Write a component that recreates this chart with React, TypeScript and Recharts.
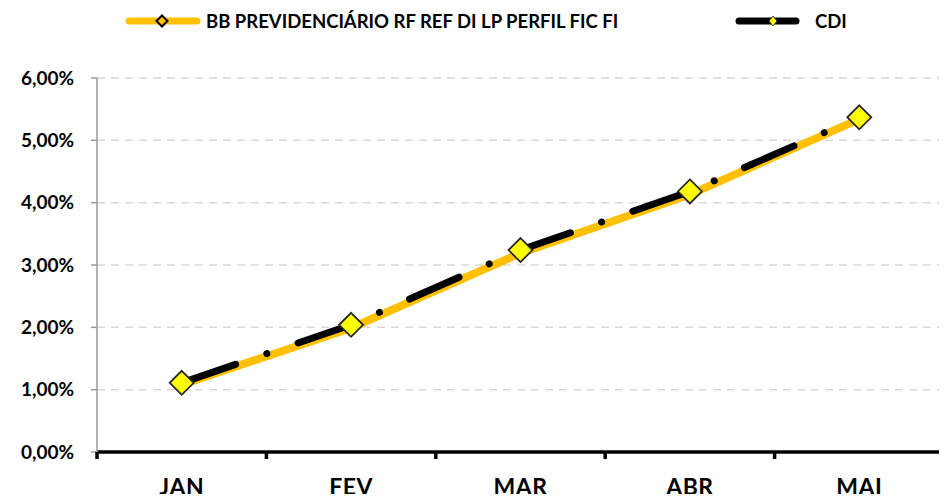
import React from "react";
import { LineChart, Line, XAxis, YAxis, CartesianGrid } from "recharts";

const MONTHS = ["JAN", "FEV", "MAR", "ABR", "MAI"];
const FUND = [1.08, 1.99, 3.19, 4.13, 5.34];
const CDI = [1.11, 2.04, 3.24, 4.18, 5.37];
const Y_TICKS = [0, 1, 2, 3, 4, 5, 6];

const FUND_NAME = "BB PREVIDENCIÁRIO RF REF DI LP PERFIL FIC FI";
const CDI_NAME = "CDI";

const FONT = "Lato, 'Open Sans', sans-serif";
const PLOT_LEFT = 97;
const PLOT_RIGHT = 944;
const BAND = (PLOT_RIGHT - PLOT_LEFT) / MONTHS.length;

const data = MONTHS.map((m, i) => ({ month: m, fund: FUND[i], cdi: CDI[i] }));

const fmtPct = (v: number) => v.toFixed(2).replace(".", ",") + "%";

const Diamond = (props: any) => {
  const { cx, cy } = props;
  if (cx == null || cy == null) return null;
  const r = 12;
  return (
    <path
      d={`M${cx},${cy - r}L${cx + r},${cy}L${cx},${cy + r}L${cx - r},${cy}Z`}
      fill="#FFFF00"
      stroke="#262626"
      strokeWidth={1.8}
    />
  );
};

const MonthTick = (props: any) => {
  const { x, y, payload, index } = props;
  const last = index === MONTHS.length - 1;
  return (
    <g>
      <line x1={x - BAND / 2} y1={y} x2={x - BAND / 2} y2={y + 7} stroke="#000" strokeWidth={3.5} />
      {last && (
        <line x1={x + BAND / 2} y1={y} x2={x + BAND / 2} y2={y + 7} stroke="#000" strokeWidth={3.5} />
      )}
      <text
        x={x}
        y={y + 43}
        textAnchor="middle"
        fontFamily={FONT}
        fontWeight={700}
        fontSize={23}
        letterSpacing={0.5}
        fill="#000"
      >
        {payload.value}
      </text>
    </g>
  );
};

const LegendBox = () => (
  <svg width={947} height={40} style={{ position: "absolute", left: 0, top: 0 }}>
    <line x1={129} y1={21} x2={197} y2={21} stroke="#FFC000" strokeWidth={7} strokeLinecap="round" />
    <path d="M162,15.5L167.5,21L162,26.5L156.5,21Z" fill="#FFC000" stroke="#000" strokeWidth={2} />
    <text x={206} y={27.5} fontFamily={FONT} fontWeight={700} fontSize={18.5} fill="#000">
      {FUND_NAME}
    </text>
    <line x1={739} y1={21} x2={796} y2={21} stroke="#000" strokeWidth={7} strokeLinecap="round" />
    <path d="M773,16L777,21L773,26L769,21Z" fill="#FFFF00" stroke="#262626" strokeWidth={0.8} />
    <text x={815} y={27.5} fontFamily={FONT} fontWeight={700} fontSize={18.5} fill="#000">
      {CDI_NAME}
    </text>
  </svg>
);

export default function App() {
  return (
    <div style={{ margin: -8, width: 947, height: 502, background: "#fff", position: "relative" }}>
      <LineChart
        width={947}
        height={502}
        data={data}
        margin={{ top: 78, right: 947 - PLOT_RIGHT, bottom: 0, left: 0 }}
      >
        <CartesianGrid
          vertical={false}
          stroke="#D9D9D9"
          strokeWidth={1.5}
          strokeDasharray="8 6"
        />
        <XAxis
          dataKey="month"
          scale="band"
          height={50}
          axisLine={{ stroke: "#000", strokeWidth: 3.5 }}
          tickLine={false}
          tickSize={0}
          tickMargin={0}
          tick={<MonthTick />}
          interval={0}
        />
        <YAxis
          domain={[0, 6]}
          ticks={Y_TICKS}
          width={PLOT_LEFT}
          tickSize={6}
          tickMargin={17}
          axisLine={{ stroke: "#999", strokeWidth: 1.5 }}
          tickLine={{ stroke: "#999", strokeWidth: 1.5 }}
          tickFormatter={fmtPct}
          tick={{ fontFamily: FONT, fontWeight: 700, fontSize: 19, fill: "#000" }}
        />
        <Line
          dataKey="fund"
          name={FUND_NAME}
          stroke="#FFC000"
          strokeWidth={8}
          strokeLinecap="round"
          dot={false}
          activeDot={false}
          isAnimationActive={false}
        />
        <Line
          dataKey="cdi"
          name={CDI_NAME}
          stroke="#000"
          strokeWidth={7}
          strokeLinecap="round"
          strokeDasharray="54 33 0.01 33"
          strokeDashoffset={-3}
          dot={<Diamond />}
          activeDot={false}
          isAnimationActive={false}
        />
      </LineChart>
      <LegendBox />
    </div>
  );
}
